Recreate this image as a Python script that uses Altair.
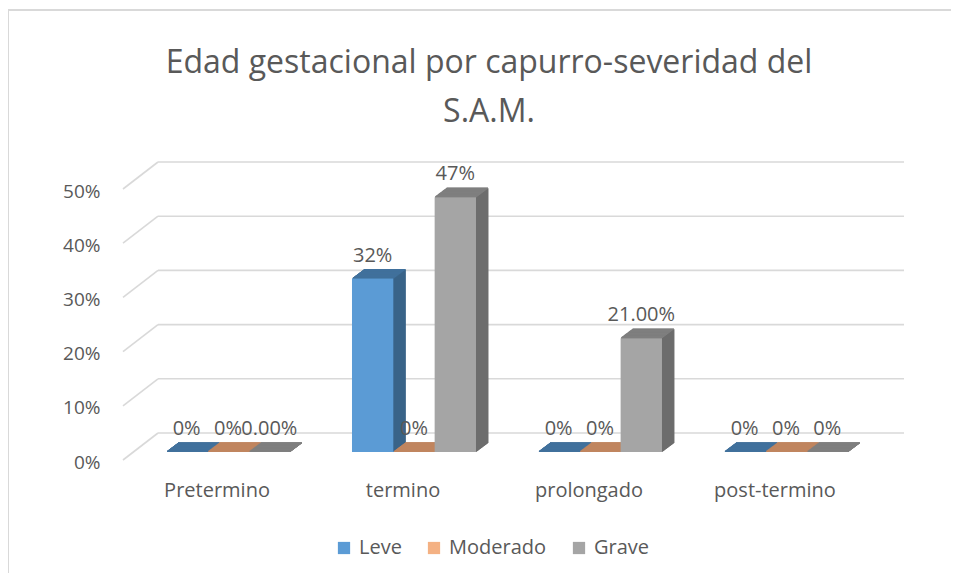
import altair as alt
import pandas as pd

# ---------------- data ----------------
categories = ["Pretermino", "termino", "prolongado", "post-termino"]
series = ["Leve", "Moderado", "Grave"]
leve = [0.0, 0.32, 0.0, 0.0]
moderado = [0.0, 0.0, 0.0, 0.0]
grave = [0.0, 0.47, 0.21, 0.0]
leve_labels = ["0%", "32%", "0%", "0%"]
moderado_labels = ["0%", "0%", "0%", "0%"]
grave_labels = ["0.00%", "47%", "21.00%", "0%"]
y_ticks = [0.0, 0.1, 0.2, 0.3, 0.4, 0.5]
title_lines = ["Edad gestacional por capurro-severidad del", "S.A.M."]

# ---------------- style ----------------
front_colors = ["#5B9BD5", "#F4B183", "#A5A5A5"]
side_colors = {"Leve": "#3A6489", "Moderado": "#B97F59", "Grave": "#6D6D6D"}
top_colors = {"Leve": "#41719C", "Moderado": "#C0855F", "Grave": "#7F7F7F"}
TXT = "#595959"
GRID = "#D9D9D9"
FONT = "Open Sans"
W, H = 744, 271
GROUP = 124         # pixel width of a group of three columns
DEPTH = 12          # pixel depth of the 3-D extrusion
SLOPE = 0.75        # vertical rise per pixel of depth

rows = []
for s, vals, labs in zip(series, [leve, moderado, grave],
                         [leve_labels, moderado_labels, grave_labels]):
    for c, v, l in zip(categories, vals, labs):
        rows.append({"cat": c, "serie": s, "v": v, "label": l,
                     "side": side_colors[s], "top": top_colors[s]})
df = pd.DataFrame(rows)
grid_df = pd.DataFrame({"t": y_ticks})
one_df = pd.DataFrame({"a": [0]})

x_axis = alt.Axis(title=None, domain=False, ticks=False, labelFont=FONT,
                  labelFontSize=20, labelColor=TXT, labelPadding=28,
                  labelOffset=-11, labelAngle=0)
y_axis = alt.Axis(title=None, domain=False, ticks=False, grid=False,
                  values=y_ticks, format=".0%", labelFont=FONT,
                  labelFontSize=19, labelColor=TXT, labelPadding=35,
                  labelOffset=10)
y_scale = alt.Scale(domain=[0, 0.5], nice=False, zero=True)

x_enc = alt.X("cat:N", sort=categories,
              scale=alt.Scale(paddingInner=0.333, paddingOuter=0.1667),
              axis=x_axis)
y_enc = alt.Y("v:Q", scale=y_scale, axis=y_axis)


def xo(shift):
    return alt.XOffset("serie:N", sort=series,
                       scale=alt.Scale(type="band", paddingInner=0,
                                       paddingOuter=0,
                                       range=[shift, GROUP + shift]))


# offset for labels: the centre of each column's front face
xo_text = alt.XOffset("serie:N", sort=series,
                      scale=alt.Scale(type="point", padding=0,
                                      range=[GROUP / 6, GROUP - GROUP / 6]))

layers = []

# back-wall gridlines
layers.append(
    alt.Chart(grid_df).mark_rule(color=GRID, strokeWidth=1.6, yOffset=-19)
    .encode(y=alt.Y("t:Q", scale=y_scale, axis=y_axis),
            x=alt.value(23), x2=alt.value(769))
)
# slanted side-wall gridlines
layers.append(
    alt.Chart(grid_df).mark_rule(color=GRID, strokeWidth=1.6, yOffset=8,
                                 y2Offset=-19)
    .encode(y=alt.Y("t:Q", scale=y_scale, axis=y_axis), y2=alt.Y2("t"),
            x=alt.value(-12), x2=alt.value(23))
)

# side faces (extrusion)
for k in range(DEPTH, 0, -1):
    layers.append(
        alt.Chart(df).mark_bar(yOffset=-SLOPE * k, y2Offset=-SLOPE * k,
                               strokeWidth=1)
        .encode(x=x_enc, xOffset=xo(k), y=y_enc, y2=alt.datum(0),
                color=alt.Color("side:N", scale=None),
                stroke=alt.Stroke("side:N", scale=None))
    )
# top faces
for k in range(DEPTH, 0, -1):
    layers.append(
        alt.Chart(df).mark_bar(yOffset=-SLOPE * k, y2Offset=-SLOPE * k,
                               strokeWidth=1.3)
        .encode(x=x_enc, xOffset=xo(k), y=y_enc, y2=alt.Y2("v"),
                color=alt.Color("top:N", scale=None),
                stroke=alt.Stroke("top:N", scale=None))
    )

# front faces
layers.append(
    alt.Chart(df).mark_bar()
    .encode(x=x_enc, xOffset=xo(0), y=y_enc, y2=alt.datum(0),
            color=alt.Color("serie:N", sort=series,
                            scale=alt.Scale(domain=series, range=front_colors),
                            legend=alt.Legend(title=None, orient="none",
                                              legendX=199, legendY=357,
                                              direction="horizontal",
                                              symbolType="square",
                                              symbolSize=150,
                                              symbolStrokeWidth=0,
                                              labelFont=FONT,
                                              labelFontSize=20,
                                              labelColor=TXT,
                                              labelOffset=5,
                                              columnPadding=22)))
)

# data labels
layers.append(
    alt.Chart(df).mark_text(dy=-17, baseline="alphabetic", align="center",
                            font=FONT, fontSize=20, color=TXT)
    .encode(x=x_enc, xOffset=xo_text, y=y_enc, text="label:N")
)

# outer chart frame
layers.append(
    alt.Chart(one_df).mark_rule(color=GRID, strokeWidth=2)
    .encode(x=alt.value(-127), x2=alt.value(W + 80), y=alt.value(-171))
)
layers.append(
    alt.Chart(one_df).mark_rule(color=GRID, strokeWidth=2)
    .encode(x=alt.value(-127), y=alt.value(-171), y2=alt.value(H + 130))
)

chart = alt.layer(*layers).resolve_scale(xOffset="independent").properties(
    width=W, height=H,
    autosize=alt.AutoSizeParams(type="none"),
    padding={"left": 127, "top": 173, "right": 72, "bottom": 121},
    title=alt.TitleParams(title_lines, font=FONT, fontSize=32,
                          fontWeight="normal", color=TXT, lineHeight=49,
                          anchor="middle", dx=-18, offset=-120),
).configure_view(stroke=None)

chart.save("out.html", embed_options={"renderer": "svg", "actions": False})
